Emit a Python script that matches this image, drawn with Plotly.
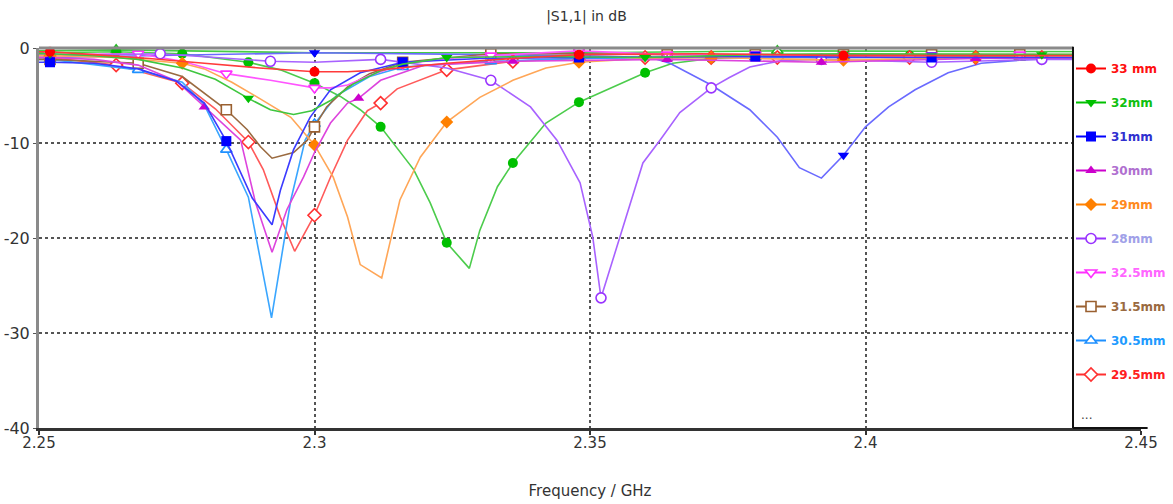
import numpy as np
import plotly.graph_objects as go

# ---------------- data ----------------
f_33 = [2.25, 2.252, 2.26, 2.27, 2.28, 2.29, 2.3, 2.306, 2.312, 2.324, 2.336, 2.348, 2.37, 2.396, 2.42, 2.444, 2.45]
db_33 = [-0.4, -0.4, -0.7, -1.1, -1.6, -2.1, -2.5, -2.5, -2.3, -1.6, -1.1, -0.7, -0.6, -0.8, -0.8, -0.8, -0.8]
mk_33 = [2.252, 2.3, 2.348, 2.396, 2.444]

f_32 = [2.25, 2.252, 2.26, 2.268, 2.276, 2.282, 2.288, 2.292, 2.2962, 2.2995, 2.303, 2.307, 2.312, 2.316, 2.324, 2.34, 2.36, 2.38, 2.396, 2.432, 2.45]
db_32 = [-0.6, -0.6, -0.8, -1.2, -2.1, -3.3, -5.3, -6.5, -7.0, -6.6, -5.5, -3.8, -2.4, -1.7, -1.0, -0.9, -1.0, -0.7, -0.6, -0.7, -0.7]
mk_32 = [2.252, 2.288, 2.324, 2.36, 2.396, 2.432]

f_31 = [2.25, 2.252, 2.26, 2.268, 2.275, 2.28, 2.284, 2.2887, 2.2923, 2.2938, 2.2962, 2.2992, 2.3029, 2.3083, 2.316, 2.33, 2.348, 2.38, 2.412, 2.444, 2.45]
db_31 = [-1.5, -1.5, -1.6, -2.2, -3.5, -5.8, -9.8, -15.8, -18.6, -15.0, -10.7, -7.3, -4.4, -2.6, -1.5, -1.1, -1.0, -0.9, -1.0, -1.0, -1.0]
mk_31 = [2.252, 2.284, 2.316, 2.348, 2.38, 2.412, 2.444]

f_30 = [2.25, 2.252, 2.26, 2.268, 2.275, 2.28, 2.2866, 2.2893, 2.2923, 2.295, 2.298, 2.3, 2.3029, 2.306, 2.308, 2.312, 2.32, 2.336, 2.364, 2.392, 2.42, 2.448, 2.45]
db_30 = [-1.0, -1.0, -1.2, -1.8, -3.5, -6.2, -9.7, -16.3, -21.5, -17.0, -13.6, -11.0, -7.9, -5.8, -5.3, -3.4, -1.8, -1.4, -1.2, -1.5, -1.1, -1.0, -1.0]
mk_30 = [2.252, 2.28, 2.308, 2.336, 2.364, 2.392, 2.42, 2.448]

f_29 = [2.25, 2.252, 2.264, 2.276, 2.28, 2.285, 2.29, 2.2957, 2.3, 2.3034, 2.306, 2.3083, 2.3122, 2.3155, 2.3192, 2.324, 2.33, 2.336, 2.342, 2.348, 2.36, 2.372, 2.396, 2.42, 2.444, 2.45]
db_29 = [-0.8, -0.8, -1.0, -1.6, -2.2, -3.6, -5.3, -7.3, -10.2, -13.6, -17.8, -22.8, -24.2, -16.0, -11.5, -7.8, -5.2, -3.4, -2.1, -1.5, -1.1, -1.0, -1.3, -1.0, -1.0, -1.0]
mk_29 = [2.252, 2.276, 2.3, 2.324, 2.348, 2.372, 2.396, 2.42, 2.444]

f_28 = [2.25, 2.252, 2.272, 2.292, 2.3, 2.312, 2.324, 2.332, 2.3392, 2.344, 2.3482, 2.3505, 2.352, 2.3596, 2.3627, 2.3663, 2.372, 2.3753, 2.379, 2.385, 2.392, 2.412, 2.432, 2.45]
db_28 = [-0.8, -0.8, -0.6, -1.4, -1.5, -1.2, -2.1, -3.4, -6.2, -9.7, -14.2, -19.9, -26.3, -12.1, -9.7, -6.8, -4.2, -3.1, -2.0, -1.3, -1.2, -1.5, -1.2, -1.2]
mk_28 = [2.252, 2.272, 2.292, 2.312, 2.332, 2.352, 2.372, 2.392, 2.412, 2.432]

f_325 = [2.25, 2.252, 2.268, 2.276, 2.284, 2.292, 2.3, 2.3029, 2.306, 2.31, 2.316, 2.324, 2.332, 2.348, 2.364, 2.38, 2.396, 2.412, 2.428, 2.444, 2.45]
db_325 = [-0.7, -0.7, -0.6, -1.4, -2.7, -3.4, -4.2, -4.2, -3.9, -2.9, -1.7, -1.1, -0.8, -0.3, -0.7, -0.7, -0.8, -0.8, -0.7, -0.8, -0.8]
mk_325 = [2.252, 2.268, 2.284, 2.3, 2.316, 2.332, 2.348, 2.364, 2.38, 2.396, 2.412, 2.428, 2.444]

f_315 = [2.25, 2.252, 2.268, 2.276, 2.284, 2.2878, 2.2902, 2.2923, 2.2962, 2.2987, 2.3, 2.3022, 2.306, 2.31, 2.316, 2.332, 2.348, 2.364, 2.38, 2.396, 2.412, 2.428, 2.444, 2.45]
db_315 = [-1.2, -1.2, -1.6, -3.0, -6.5, -8.6, -10.4, -11.6, -11.0, -9.7, -8.3, -6.2, -4.1, -2.7, -1.5, -0.6, -0.6, -0.7, -0.7, -0.7, -0.7, -0.7, -0.7, -0.7]
mk_315 = [2.252, 2.268, 2.284, 2.3, 2.316, 2.332, 2.348, 2.364, 2.38, 2.396, 2.412, 2.428, 2.444]

f_305 = [2.25, 2.252, 2.268, 2.276, 2.28, 2.284, 2.288, 2.2922, 2.2957, 2.2983, 2.3, 2.304, 2.31, 2.316, 2.332, 2.348, 2.364, 2.38, 2.396, 2.412, 2.428, 2.444, 2.45]
db_305 = [-1.2, -1.2, -2.3, -3.6, -6.0, -10.7, -15.7, -28.4, -16.0, -9.7, -8.0, -5.0, -3.0, -2.0, -1.4, -1.1, -1.0, -1.0, -1.0, -1.0, -1.0, -1.0, -1.0]
mk_305 = [2.252, 2.268, 2.284, 2.3, 2.316, 2.332, 2.348, 2.364, 2.38, 2.396, 2.412, 2.428, 2.444]

f_295 = [2.25, 2.252, 2.264, 2.276, 2.282, 2.288, 2.2907, 2.2938, 2.2964, 2.3, 2.3029, 2.306, 2.3096, 2.312, 2.315, 2.324, 2.336, 2.348, 2.36, 2.372, 2.384, 2.396, 2.408, 2.42, 2.432, 2.444, 2.45]
db_295 = [-1.0, -1.0, -1.8, -3.7, -6.4, -9.9, -12.8, -17.8, -21.4, -17.6, -13.6, -9.7, -6.6, -5.8, -4.3, -2.3, -1.4, -1.1, -1.0, -1.0, -1.0, -1.0, -1.0, -1.0, -1.0, -1.0, -1.0]
mk_295 = [2.252, 2.264, 2.276, 2.288, 2.3, 2.312, 2.324, 2.336, 2.348, 2.36, 2.372, 2.384, 2.396, 2.408, 2.42, 2.432, 2.444]

# curves hidden behind the "..." legend entry
f_xa = [2.25, 2.252, 2.3, 2.348, 2.361, 2.3645, 2.372, 2.379, 2.384, 2.388, 2.392, 2.396, 2.4, 2.4042, 2.409, 2.415, 2.421, 2.43, 2.444, 2.45]
db_xa = [-1.0, -1.0, -0.5, -0.8, -1.0, -1.6, -3.9, -6.5, -9.4, -12.6, -13.7, -11.3, -8.3, -6.2, -4.4, -2.6, -1.6, -1.2, -1.0, -1.0]
mk_xa = [2.252, 2.3, 2.348, 2.396, 2.444]

f_xb = [2.25, 2.252, 2.264, 2.276, 2.288, 2.2938, 2.3, 2.3047, 2.3083, 2.312, 2.318, 2.321, 2.324, 2.3281, 2.33, 2.3332, 2.336, 2.342, 2.348, 2.3542, 2.36, 2.365, 2.372, 2.384, 2.396, 2.408, 2.42, 2.432, 2.444, 2.45]
db_xb = [-0.5, -0.5, -0.4, -0.6, -1.5, -2.3, -3.7, -5.1, -6.5, -8.3, -12.8, -16.3, -20.5, -23.2, -19.2, -14.6, -12.1, -7.9, -5.7, -4.1, -2.6, -1.6, -1.1, -0.9, -0.7, -0.8, -0.9, -1.0, -1.0, -1.0]
mk_xb = [2.252, 2.264, 2.276, 2.288, 2.3, 2.312, 2.324, 2.336, 2.348, 2.36, 2.372, 2.384, 2.396, 2.408, 2.42, 2.432, 2.444]

f_xc = [2.25, 2.264, 2.3, 2.35, 2.384, 2.45]
db_xc = [-0.3, -0.2, -0.5, -0.5, -0.3, -0.4]
mk_xc = [2.264, 2.384]

labels = ["33 mm", "32mm", "31mm", "30mm", "29mm", "28mm", "32.5mm", "31.5mm", "30.5mm", "29.5mm"]
x_ticks = [2.25, 2.3, 2.35, 2.4, 2.45]
x_ticktext = ["2.25", "2.3", "2.35", "2.4", "2.45"]
y_ticks = [0, -10, -20, -30, -40]
y_ticktext = ["0", "-10", "-20", "-30", "-40"]

# ---------------- styles ----------------
# (freq, dB, marker freqs, name, line color, marker color, symbol, open, legend text color)
series = [
    (f_xc, db_xc, mk_xc, None, "#44cc44", "#22bb22", "triangle-up", True, None),
    (f_xb, db_xb, mk_xb, None, "#4ccc4c", "#00c000", "circle", False, None),
    (f_xa, db_xa, mk_xa, None, "#6a6aff", "#0000ff", "triangle-down", False, None),
    (f_295, db_295, mk_295, labels[9], "#ff5a5a", "#ff3030", "diamond", True, "#ff2020"),
    (f_305, db_305, mk_305, labels[8], "#3aa6ff", "#1e90ff", "triangle-up", True, "#1e9bff"),
    (f_315, db_315, mk_315, labels[7], "#9a6a40", "#9a6030", "square", True, "#9a6a40"),
    (f_325, db_325, mk_325, labels[6], "#ff55ff", "#ff30ff", "triangle-down", True, "#ff66ff"),
    (f_28, db_28, mk_28, labels[5], "#a862ff", "#9933ff", "circle", True, "#a0a0e8"),
    (f_29, db_29, mk_29, labels[4], "#ffa657", "#ff8000", "diamond", False, "#ff8a20"),
    (f_30, db_30, mk_30, labels[3], "#dd44dd", "#cc00cc", "triangle-up", False, "#b070d0"),
    (f_31, db_31, mk_31, labels[2], "#3b3bff", "#0000ff", "square", False, "#3030d0"),
    (f_32, db_32, mk_32, labels[1], "#3fc63f", "#00c000", "triangle-down", False, "#10c010"),
    (f_33, db_33, mk_33, labels[0], "#ff3a3a", "#ff0000", "circle", False, "#ff1010"),
]

fig = go.Figure()

def marker_style(mcol, sym, opn, size=10):
    if opn:
        return dict(symbol=sym, size=size, color="white", line=dict(color=mcol, width=1.6))
    return dict(symbol=sym, size=size, color=mcol, line=dict(color=mcol, width=0))

for f, db, mk, name, lcol, mcol, sym, opn, tcol in series:
    f = np.array(f)
    db = np.array(db)
    fig.add_trace(go.Scatter(x=f, y=db, mode="lines", line=dict(color=lcol, width=1.6),
                             showlegend=False, hoverinfo="skip", cliponaxis=False))
    mask = np.isin(np.round(f, 4), np.round(np.array(mk), 4))
    fig.add_trace(go.Scatter(x=f[mask], y=db[mask], mode="markers",
                             marker=marker_style(mcol, sym, opn), showlegend=False,
                             cliponaxis=False))

# legend entries (order as in the reference legend)
by_name = {s[3]: s for s in series if s[3]}
for i, lab in enumerate(labels):
    _, _, _, name, lcol, mcol, sym, opn, tcol = by_name[lab]
    fig.add_trace(go.Scatter(x=[None], y=[None], mode="lines+markers",
                             line=dict(color=mcol, width=2),
                             marker=marker_style(mcol, sym, opn, size=10),
                             name=f"<span style='color:{tcol}'><b>{lab}</b></span>",
                             legendgroup=f"g{i}", showlegend=True))

L, R = 39, 1141
T, B = 48, 428
W, H = 1173, 504
box_x = (1073 - L) / (R - L)

fig.update_layout(
    width=W, height=H,
    margin=dict(l=L, r=W - R, t=T, b=H - B, autoexpand=False),
    paper_bgcolor="white", plot_bgcolor="white",
    font=dict(family="DejaVu Sans, Verdana, sans-serif", color="#333333"),
    title=dict(text="|S1,1| in dB", x=0.5, xanchor="center", y=1 - 16 / H, yanchor="middle",
               yref="container", font=dict(size=14, color="#333333")),
    showlegend=True,
    legend=dict(x=(1071 - L) / (R - L), xanchor="left", y=1 - 6 / (B - T), yanchor="top",
                bgcolor="rgba(0,0,0,0)", borderwidth=0, font=dict(size=12),
                tracegroupgap=15, itemwidth=30, traceorder="grouped"),
    xaxis=dict(range=[2.25, 2.45], tickvals=x_ticks, ticktext=x_ticktext, automargin=False,
               showgrid=True, gridcolor="#555555", griddash="dot", gridwidth=1.5,
               zeroline=False, showline=True, linecolor="#333333", linewidth=3,
               ticks="outside", ticklen=4, tickcolor="#333333", tickwidth=1.5,
               ticklabelstandoff=-5,
               tickfont=dict(size=15, color="#333333"),
               title=dict(text="Frequency / GHz", font=dict(size=15, color="#333333"), standoff=35)),
    yaxis=dict(range=[-40, 0], tickvals=y_ticks, ticktext=y_ticktext, automargin=False,
               showgrid=True, gridcolor="#555555", griddash="dot", gridwidth=1.5,
               zeroline=False, showline=True, linecolor="#8a8a8a", linewidth=3,
               ticks="outside", ticklen=3, tickcolor="#555555",
               tickfont=dict(size=16, color="#333333")),
    shapes=[
        dict(type="rect", xref="paper", yref="paper", x0=box_x, x1=1.01, y0=0.005, y1=1.06,
             fillcolor="white", line=dict(width=0), layer="above"),
        dict(type="line", xref="paper", yref="paper", x0=0, x1=box_x, y0=1, y1=1,
             line=dict(color="#8a8a8a", width=3), layer="above"),
        dict(type="line", xref="paper", yref="paper", x0=box_x, x1=box_x, y0=0, y1=1.003,
             line=dict(color="#111111", width=2), layer="above"),
        dict(type="line", xref="paper", yref="paper", x0=box_x, x1=1.006, y0=0, y1=0,
             line=dict(color="#111111", width=2), layer="above"),
    ],
    annotations=[
        dict(text="...", xref="paper", yref="paper", x=(1086 - L) / (R - L), y=(B - 415) / (B - T),
             showarrow=False, font=dict(size=12, color="#444444"), xanchor="center", yanchor="middle"),
    ],
)

fig.write_html("out.html")
